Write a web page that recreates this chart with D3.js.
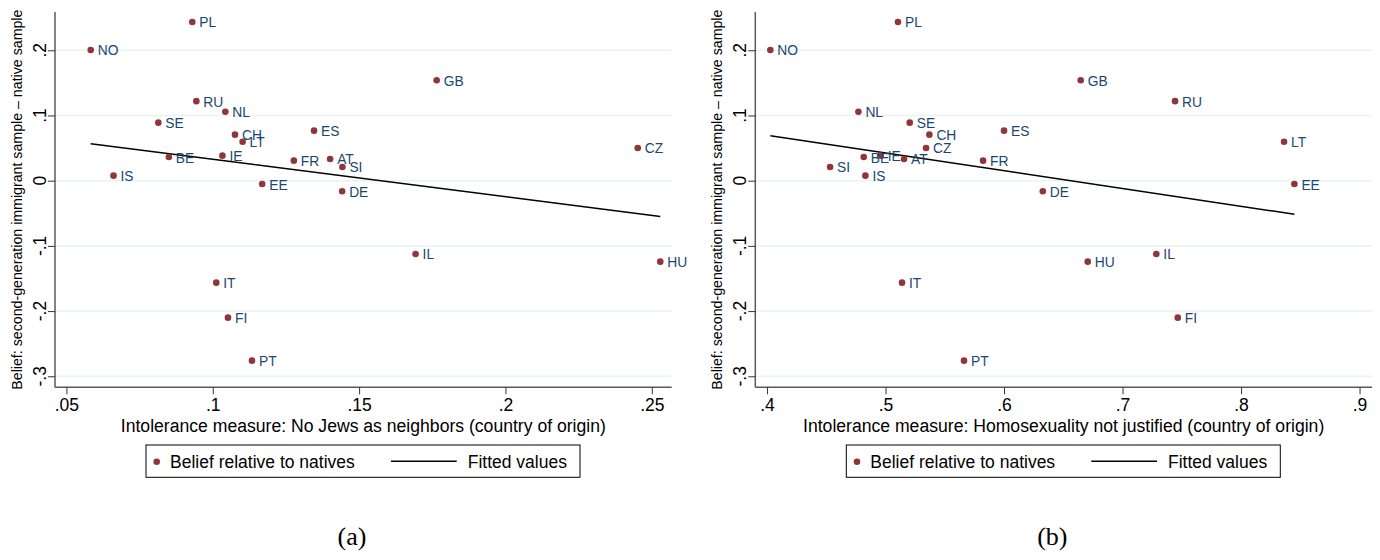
<!DOCTYPE html>
<html>
<head>
<meta charset="utf-8">
<script src="https://cdn.jsdelivr.net/npm/d3@7"></script>
<style>
  body { margin: 0; background: #fff; }
  svg { display: block; font-family: "Liberation Sans", Arial, sans-serif; }
</style>
</head>
<body>
<div id="chart"></div>
<script>
// country codes, one entry per point (same order in every array)
const countries = ["NO","PL","RU","NL","SE","CH","LT","ES","BE","IE","FR","AT","SI","DE","IS","EE","GB","CZ","IL","HU","IT","FI","PT"];
// belief: second-generation immigrant sample - native sample
const belief = [0.2005, 0.2434, 0.122, 0.1058, 0.089, 0.0706, 0.0598, 0.0767, 0.0363, 0.0384, 0.0307, 0.0333, 0.021, -0.0163, 0.0077, -0.0051, 0.154, 0.0502, -0.1124, -0.1242, -0.1564, -0.2101, -0.276];
// panel (a): no jews as neighbors
const noJews = [0.0583, 0.093, 0.0944, 0.1043, 0.0814, 0.1076, 0.1102, 0.1346, 0.085, 0.1033, 0.1277, 0.1401, 0.1443, 0.1442, 0.0661, 0.1169, 0.1765, 0.2452, 0.1693, 0.2529, 0.1012, 0.1052, 0.1134];
// panel (b): homosexuality not justified
const homosexuality = [0.4028, 0.5105, 0.7443, 0.4771, 0.5204, 0.537, 0.8363, 0.600, 0.4816, 0.4959, 0.5823, 0.5156, 0.4532, 0.6327, 0.483, 0.845, 0.6647, 0.5342, 0.7285, 0.6706, 0.5139, 0.7466, 0.5662];
// fitted line end points
const fitA_x = [0.0583, 0.2529];
const fitA_y = [0.0567, -0.0548];
const fitB_x = [0.4028, 0.845];
const fitB_y = [0.069, -0.0515];

const yTicks = [-0.3, -0.2, -0.1, 0, 0.1, 0.2];
const yTickLabels = ["-.3", "-.2", "-.1", "0", ".1", ".2"];
const xTicksA = [0.05, 0.1, 0.15, 0.2, 0.25];
const xTickLabelsA = [".05", ".1", ".15", ".2", ".25"];
const xTicksB = [0.4, 0.5, 0.6, 0.7, 0.8, 0.9];
const xTickLabelsB = [".4", ".5", ".6", ".7", ".8", ".9"];

const yTitle = "Belief: second-generation immigrant sample \u2013 native sample";
const legendLabels = ["Belief relative to natives", "Fitted values"];

const marker_color = "#90353b";
const label_color = "#1a476f";
const grid_color = "#eaf2f3";

const svg = d3.select("#chart").append("svg")
    .attr("width", 1380)
    .attr("height", 560);

const y = d3.scaleLinear()
    .domain([-0.3169, 0.2587])
    .range([387.3, 12]);

function drawPanel(left, right, xDomain, xs, ticks, tickLabels, fitX, fitY, xTitle, caption) {
    const x = d3.scaleLinear().domain(xDomain).range([left, right]);
    const g = svg.append("g");

    // gridlines
    g.selectAll(".grid")
        .data(yTicks)
        .join("line")
        .attr("class", "grid")
        .attr("x1", left).attr("x2", right)
        .attr("y1", d => y(d)).attr("y2", d => y(d))
        .attr("stroke", grid_color)
        .attr("stroke-width", 1.5);

    // y axis
    const yAxis = g.append("g")
        .attr("transform", `translate(${left},0)`)
        .call(d3.axisLeft(y).tickValues(yTicks).tickSize(7).tickFormat(""));
    yAxis.select(".domain").attr("stroke", "#5a5a5a").attr("stroke-width", 1.5)
        .attr("d", `M0,${y.range()[1]}V${y.range()[0]}`);
    yAxis.selectAll(".tick line").attr("stroke", "#333");

    g.selectAll(".ylab")
        .data(yTicks)
        .join("text")
        .attr("class", "ylab")
        .attr("transform", d => `translate(${left - 9},${y(d)}) rotate(-90)`)
        .attr("text-anchor", "middle")
        .attr("font-size", 17.5)
        .attr("fill", "#000")
        .text((d, i) => yTickLabels[i]);

    g.append("text")
        .attr("transform", `translate(${left - 33},${(y.range()[0] + y.range()[1]) / 2}) rotate(-90)`)
        .attr("text-anchor", "middle")
        .attr("font-size", 14.2)
        .attr("fill", "#000")
        .text(yTitle);

    // x axis
    const xAxis = g.append("g")
        .attr("transform", `translate(0,${y.range()[0]})`)
        .call(d3.axisBottom(x).tickValues(ticks).tickSize(7).tickFormat((d, i) => tickLabels[i]));
    xAxis.select(".domain").attr("stroke", "#5a5a5a").attr("stroke-width", 1.5)
        .attr("d", `M${left},0H${right}`);
    xAxis.selectAll(".tick line").attr("stroke", "#333");
    xAxis.selectAll(".tick text")
        .attr("font-size", 17.5)
        .attr("font-family", "Liberation Sans, Arial, sans-serif")
        .attr("fill", "#000")
        .attr("y", 11);

    g.append("text")
        .attr("x", (left + right) / 2)
        .attr("y", 431.5)
        .attr("text-anchor", "middle")
        .attr("font-size", 17.6)
        .attr("fill", "#000")
        .text(xTitle);

    // fitted line
    g.append("path")
        .datum(fitX.map((v, i) => [v, fitY[i]]))
        .attr("d", d3.line().x(d => x(d[0])).y(d => y(d[1])))
        .attr("fill", "none")
        .attr("stroke", "#000")
        .attr("stroke-width", 1.5);

    const pts = countries.map((c, i) => ({ code: c, x: xs[i], y: belief[i] }));

    g.selectAll(".dot")
        .data(pts)
        .join("circle")
        .attr("class", "dot")
        .attr("cx", d => x(d.x))
        .attr("cy", d => y(d.y))
        .attr("r", 3.3)
        .attr("fill", marker_color);

    g.selectAll(".lab")
        .data(pts)
        .join("text")
        .attr("class", "lab")
        .attr("x", d => x(d.x) + 7)
        .attr("y", d => y(d.y) + 1)
        .attr("dominant-baseline", "central")
        .attr("font-size", 13.8)
        .attr("fill", label_color)
        .text(d => d.code);

    // legend
    const lg = g.append("g").attr("transform", `translate(${left + 91},445)`);
    lg.append("rect")
        .attr("width", 434).attr("height", 32.3)
        .attr("fill", "#fff")
        .attr("stroke", "#000")
        .attr("stroke-width", 1);
    lg.append("circle")
        .attr("cx", 10.7).attr("cy", 16.7).attr("r", 3.3)
        .attr("fill", marker_color);
    lg.append("text")
        .attr("x", 24).attr("y", 22.7)
        .attr("font-size", 17.5)
        .text(legendLabels[0]);
    lg.append("line")
        .attr("x1", 245).attr("x2", 310.7)
        .attr("y1", 16.3).attr("y2", 16.3)
        .attr("stroke", "#000")
        .attr("stroke-width", 1.5);
    lg.append("text")
        .attr("x", 321.7).attr("y", 22.7)
        .attr("font-size", 17.5)
        .text(legendLabels[1]);

    svg.append("text")
        .attr("x", left + 297)
        .attr("y", 545)
        .attr("text-anchor", "middle")
        .attr("font-family", "Liberation Serif, Times New Roman, serif")
        .attr("font-size", 26)
        .text(caption);
}

drawPanel(55, 671.7, [0.0461, 0.2568], noJews, xTicksA, xTickLabelsA, fitA_x, fitA_y,
    "Intolerance measure: No Jews as neighbors (country of origin)", "(a)");
drawPanel(755.3, 1372, [0.3901, 0.9105], homosexuality, xTicksB, xTickLabelsB, fitB_x, fitB_y,
    "Intolerance measure: Homosexuality not justified (country of origin)", "(b)");
</script>
</body>
</html>
